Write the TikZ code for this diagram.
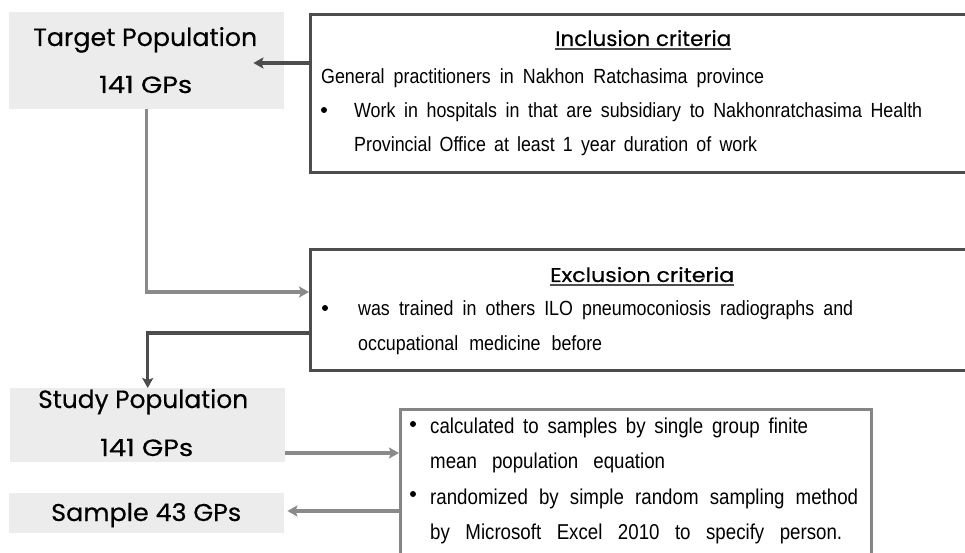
\documentclass[tikz,border=0pt]{standalone}
\usepackage{graphicx}
\usepackage{fontspec}
\setmainfont{Liberation Sans}
\newfontfamily\headfont[FakeBold=0.4]{Poppins}
\newfontfamily\bodyfont[FakeStretch=0.87]{Liberation Sans}
\usetikzlibrary{arrows.meta,calc}
\definecolor{boxgray}{HTML}{ECECEC}
\definecolor{darkline}{HTML}{4D4D4D}
\definecolor{midline}{HTML}{8A8A8A}
\definecolor{sampline}{HTML}{858585}
\newcommand{\hdtext}[3]{\resizebox{#1}{#2}{\headfont #3}}
\newcommand{\jline}[2]{\makebox[#1][s]{#2}}
\tikzset{
  graybox/.style={fill=boxgray, draw=none, anchor=north west, inner sep=0},
  critbox/.style={draw=darkline, line width=3bp, fill=white, anchor=north west, inner sep=0},
  sampframe/.style={draw=sampline, line width=2.6bp, fill=white, anchor=north west, inner sep=0},
  headtxt/.style={anchor=base west, inner sep=0, text=black},
  bodytxt/.style={anchor=base west, inner sep=0, text=black, font=\bodyfont\fontsize{20.5bp}{23bp}\selectfont},
  samptxt/.style={anchor=base west, inner sep=0, text=black, font=\bodyfont\fontsize{21.5bp}{24bp}\selectfont},
  bulletdot/.style={circle, fill=black, inner sep=0, minimum size=6bp},
  uline/.style={draw=darkline, line width=1.6bp},
  tipstyle/.style={-{Stealth[length=10bp,width=11bp,inset=2bp]}},
  darkarrow/.style={tipstyle, draw=darkline, line width=3.5bp},
  grayarrow/.style={tipstyle, draw=midline, line width=3.5bp},
}
\begin{document}
\begin{tikzpicture}[x=1bp,y=-1bp]
\useasboundingbox (0,0) rectangle (965,553);
\clip (0,0) rectangle (965,553);
\fill[white] (0,0) rectangle (965,553);

% left gray boxes
\node[graybox, minimum width=275bp, minimum height=97bp] (target) at (9,12) {};
\node[graybox, minimum width=275bp, minimum height=74bp] (study) at (10,388) {};
\node[graybox, minimum width=275bp, minimum height=40bp] (sample) at (9,493) {};

% right boxes
\node[critbox, minimum width=680bp, minimum height=158bp] (incl) at (309,13) {};
\node[critbox, minimum width=680bp, minimum height=121bp] (excl) at (309,248) {};
\node[sampframe, minimum width=471bp, minimum height=200bp] (sampbox) at (399,408) {};

% headings in gray boxes
\node[headtxt] (tp1) at (33,46) {\hdtext{224bp}{19bp}{Target Population}};
\node[headtxt] (tp2) at (99,93) {\hdtext{93bp}{17bp}{141 GPs}};
\node[headtxt] (sp1) at (38,408) {\hdtext{210bp}{19bp}{Study Population}};
\node[headtxt] (sp2) at (100,456) {\hdtext{93bp}{17bp}{141 GPs}};
\node[headtxt] (sa) at (51,521) {\hdtext{190bp}{18bp}{Sample 43 GPs}};

% criteria headings
\node[headtxt] (inh) at (555,46) {\hdtext{176bp}{16bp}{Inclusion criteria}};
\draw[uline] ($(inh.base west)+(0,3)$) -- ($(inh.base east)+(0,3)$);
\node[headtxt] (exh) at (550,282) {\hdtext{184bp}{15bp}{Exclusion criteria}};
\draw[uline] ($(exh.base west)+(0,3)$) -- ($(exh.base east)+(0,3)$);

% inclusion text
\node[bodytxt] (g1) at (321,84) {\jline{443bp}{General practitioners in Nakhon Ratchasima province}};
\node[bulletdot] (b1) at (324,110) {};
\node[bodytxt] (w1) at (354,118) {\jline{568bp}{Work in hospitals in that are subsidiary to Nakhonratchasima Health}};
\node[bodytxt] (w2) at (354,152) {\jline{403bp}{Provincial Office at least 1 year duration of work}};

% exclusion text
\node[bulletdot] (b2) at (325,308) {};
\node[bodytxt] (e1) at (358,316) {\jline{495bp}{was trained in others ILO pneumoconiosis radiographs and}};
\node[bodytxt] (e2) at (358,351) {\jline{244bp}{occupational medicine before}};

% sampling text
\node[bulletdot] (b3) at (413,424) {};
\node[samptxt] (s1) at (430,433) {\jline{378bp}{calculated to samples by single group finite}};
\node[samptxt] (s2) at (430,468) {\jline{235bp}{mean population equation}};
\node[bulletdot] (b4) at (413,494) {};
\node[samptxt] (s3) at (430,504) {\jline{428bp}{randomized by simple random sampling method}};
\node[samptxt] (s4) at (430,539) {\jline{412bp}{by Microsoft Excel 2010 to specify person.}};

% connectors
\draw[darkarrow, shorten >=-31bp] (incl.west |- 0,63) -- (target.east |- 0,63);
\draw[grayarrow] (target.south) |- (excl.west |- 0,292);
\draw[darkarrow] (excl.west |- 0,333) -| (study.north);
\draw[grayarrow] (study.east |- 0,453) -- (sampbox.west |- 0,453);
\draw[grayarrow] (sampbox.west |- 0,511) -- ($(sample.east |- 0,511)+(3,0)$);
\end{tikzpicture}
\end{document}
